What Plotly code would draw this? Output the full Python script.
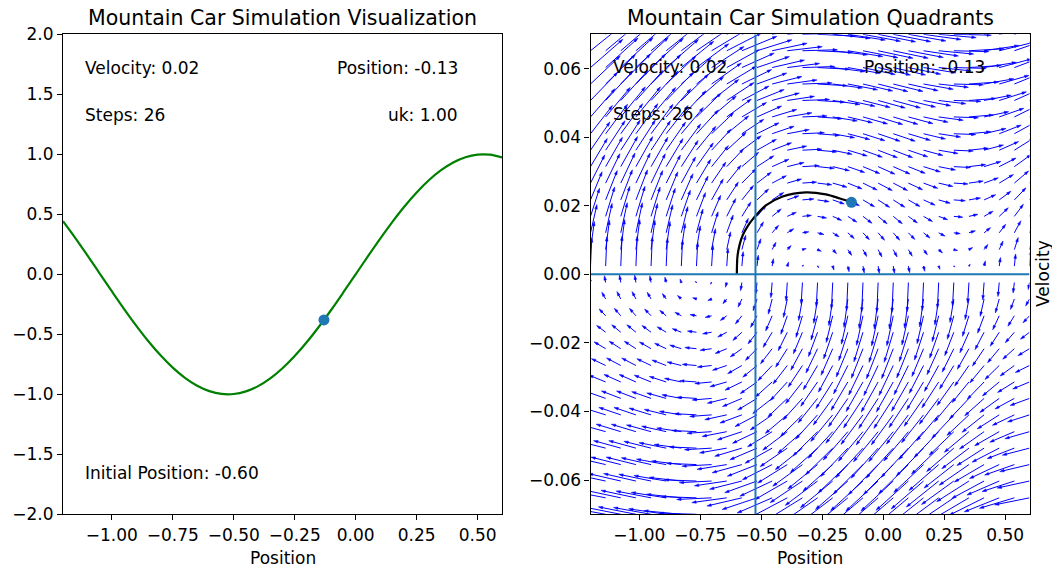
import plotly.graph_objects as go
import math

# ---------------- data ----------------
# left panel: mountain profile (height vs position)
hill_x = [-1.20, -1.15, -1.10, -1.05, -1.00, -0.95, -0.90, -0.85, -0.80, -0.75, -0.70, -0.65,
          -0.60, -0.55, -0.50, -0.45, -0.40, -0.35, -0.30, -0.25, -0.20, -0.15, -0.10, -0.05,
          0.00, 0.05, 0.10, 0.15, 0.20, 0.25, 0.30, 0.35, 0.40, 0.45, 0.50, 0.55, 0.60]
hill_y = [0.4425, 0.3035, 0.1577, 0.0084, -0.1411, -0.2875, -0.4274, -0.5577, -0.6755, -0.7781,
          -0.8632, -0.9290, -0.9738, -0.9969, -0.9975, -0.9757, -0.9320, -0.8674, -0.7833, -0.6816,
          -0.5646, -0.4350, -0.2955, -0.1494, 0.0, 0.1494, 0.2955, 0.4350, 0.5646, 0.6816, 0.7833,
          0.8674, 0.9320, 0.9757, 0.9975, 0.9969, 0.9738]

car_position = -0.13
car_height = -0.38
car_velocity = 0.021
valley_position = -0.5236

# right panel: trajectory in phase space
traj_pos = [-0.600, -0.597, -0.588, -0.576, -0.556, -0.532, -0.481, -0.412, -0.317, -0.235, -0.177, -0.130]
traj_vel = [0.0000, 0.0055, 0.0088, 0.0114, 0.0140, 0.0163, 0.0201, 0.0227, 0.0239, 0.0233, 0.0221, 0.0210]

# quiver grid
grid_pos = [-1.2000, -1.1379, -1.0759, -1.0138, -0.9517, -0.8897, -0.8276, -0.7655, -0.7034, -0.6414,
            -0.5793, -0.5172, -0.4552, -0.3931, -0.3310, -0.2690, -0.2069, -0.1448, -0.0828, -0.0207,
            0.0414, 0.1034, 0.1655, 0.2276, 0.2897, 0.3517, 0.4138, 0.4759, 0.5379, 0.6000]
grid_vel = [-0.0700, -0.0652, -0.0603, -0.0555, -0.0507, -0.0459, -0.0410, -0.0362, -0.0314, -0.0266,
            -0.0217, -0.0169, -0.0121, -0.0072, -0.0024, 0.0024, 0.0072, 0.0121, 0.0169, 0.0217,
            0.0266, 0.0314, 0.0362, 0.0410, 0.0459, 0.0507, 0.0555, 0.0603, 0.0652, 0.0700]
# velocity change per column (x1e-4) when pushing right (v>0) / left (v<0)
accel_push_right = [37.42, 39.08, 39.91, 39.88, 38.98, 37.26, 34.77, 31.60, 27.86, 23.67,
                    19.16, 14.52, 9.90, 5.46, 1.34, -2.29, -5.34, -7.68, -9.23, -9.95,
                    -9.81, -8.81, -6.98, -4.40, -1.14, 2.68, 6.93, 11.43, 16.08, 20.68]
accel_push_left = [7.42, 9.08, 9.91, 9.88, 8.98, 7.26, 4.77, 1.60, -2.14, -6.33,
                   -10.84, -15.48, -20.10, -24.54, -28.66, -32.29, -35.34, -37.68, -39.23, -39.95,
                   -39.81, -38.81, -36.98, -34.40, -31.14, -27.32, -23.07, -18.57, -13.92, -9.32]

x_ticks = [-1.0, -0.75, -0.5, -0.25, 0.0, 0.25, 0.5]
x_tick_text = ["\u22121.00", "\u22120.75", "\u22120.50", "\u22120.25", "0.00", "0.25", "0.50"]
y1_ticks = [2.0, 1.5, 1.0, 0.5, 0.0, -0.5, -1.0, -1.5, -2.0]
y1_tick_text = ["2.0", "1.5", "1.0", "0.5", "0.0", "\u22120.5", "\u22121.0", "\u22121.5", "\u22122.0"]
y2_ticks = [0.06, 0.04, 0.02, 0.0, -0.02, -0.04, -0.06]
y2_tick_text = ["0.06", "0.04", "0.02", "0.00", "\u22120.02", "\u22120.04", "\u22120.06"]

# ---------------- layout geometry ----------------
W, H = 1052, 568
L1 = (63, 502)
L2 = (590.5, 1029.5)
YT, YB = 34.3, 514.3
XR = (-1.2, 0.6)
VR = (-0.07, 0.07)
kx = (L2[1] - L2[0]) / (XR[1] - XR[0])   # px per position unit
ky = (YB - YT) / (VR[1] - VR[0])         # px per velocity unit

FONT = "DejaVu Sans"
BLUE = "#1f77b4"
FS = 17
FT = 20.5

fig = go.Figure()

# left panel
fig.add_trace(go.Scatter(x=hill_x, y=hill_y, mode="lines", line=dict(color="green", width=2.2, shape="spline"),
                         xaxis="x", yaxis="y", showlegend=False, hoverinfo="skip"))
fig.add_trace(go.Scatter(x=[car_position], y=[car_height], mode="markers",
                         marker=dict(color=BLUE, size=11), xaxis="x", yaxis="y", showlegend=False))

# quiver
scale = 2.2
shaft_x, shaft_y, head_x, head_y = [], [], [], []
for v in grid_vel:
    acc = accel_push_right if v > 0 else accel_push_left
    for xp, a in zip(grid_pos, acc):
        dxp = scale * v * kx
        dyp = scale * a * 1e-4 * ky
        L = math.hypot(dxp, dyp)
        if L < 1e-6:
            continue
        ux, uy = dxp / L, dyp / L
        hl, hw = 4.4, 2.6
        if L < hl:
            f = L / hl
            hl, hw = hl * f, hw * f
        bx, by = dxp - ux * hl * 0.9, dyp - uy * hl * 0.9
        shaft_x += [xp, xp + bx / kx, None]
        shaft_y += [v, v + by / ky, None]
        cbx, cby = dxp - ux * hl, dyp - uy * hl
        px_, py_ = -uy, ux
        pts = [(dxp, dyp), (cbx + px_ * hw / 2, cby + py_ * hw / 2), (cbx - px_ * hw / 2, cby - py_ * hw / 2)]
        for (a1, b1) in pts:
            head_x.append(xp + a1 / kx)
            head_y.append(v + b1 / ky)
        head_x += [xp + dxp / kx, None]
        head_y += [v + dyp / ky, None]

fig.add_trace(go.Scatter(x=shaft_x, y=shaft_y, mode="lines", line=dict(color="#0000ff", width=1),
                         xaxis="x2", yaxis="y2", showlegend=False, hoverinfo="skip"))
fig.add_trace(go.Scatter(x=head_x, y=head_y, mode="lines", fill="toself", fillcolor="#0000ff",
                         line=dict(color="#0000ff", width=0.5),
                         xaxis="x2", yaxis="y2", showlegend=False, hoverinfo="skip"))

fig.add_trace(go.Scatter(x=traj_pos, y=traj_vel, mode="lines", line=dict(color="black", width=2.2, shape="spline"),
                         xaxis="x2", yaxis="y2", showlegend=False, hoverinfo="skip"))
fig.add_trace(go.Scatter(x=[XR[0], XR[1]], y=[0, 0], mode="lines", line=dict(color=BLUE, width=2),
                         xaxis="x2", yaxis="y2", showlegend=False, hoverinfo="skip"))
fig.add_trace(go.Scatter(x=[valley_position, valley_position], y=[VR[0], VR[1]], mode="lines",
                         line=dict(color=BLUE, width=2), xaxis="x2", yaxis="y2", showlegend=False, hoverinfo="skip"))
fig.add_trace(go.Scatter(x=[car_position], y=[car_velocity], mode="markers",
                         marker=dict(color=BLUE, size=11), xaxis="x2", yaxis="y2", showlegend=False))

def px2paper_x(p):
    return p / W

def px2paper_y(p):
    return (H - p) / H

axis_common = dict(showline=True, mirror=True, linecolor="black", linewidth=1.1, ticks="outside",
                   ticklen=5, tickwidth=1.1, tickcolor="black", showgrid=False, zeroline=False,
                   automargin=False, tickfont=dict(family=FONT, size=FS, color="black"))

fig.update_layout(
    width=W, height=H, margin=dict(l=0, r=0, t=0, b=0, pad=0),
    paper_bgcolor="white", plot_bgcolor="white", template="none",
    xaxis=dict(domain=[L1[0] / W, L1[1] / W], range=list(XR), anchor="y",
               tickvals=x_ticks, ticktext=x_tick_text, **axis_common),
    yaxis=dict(domain=[(H - YB) / H, (H - YT) / H], range=[-2, 2], anchor="x",
               tickvals=y1_ticks, ticktext=y1_tick_text, **axis_common),
    xaxis2=dict(domain=[L2[0] / W, L2[1] / W], range=list(XR), anchor="y2",
                tickvals=x_ticks, ticktext=x_tick_text, **axis_common),
    yaxis2=dict(domain=[(H - YB) / H, (H - YT) / H], range=list(VR), anchor="x2",
                tickvals=y2_ticks, ticktext=y2_tick_text, **axis_common),
    showlegend=False,
)

tf = dict(family=FONT, size=FS, color="black")
ann = []
# titles
ann.append(dict(text="Mountain Car Simulation Visualization", x=px2paper_x(282.5), y=px2paper_y(18),
                xref="paper", yref="paper", xanchor="center", yanchor="middle", showarrow=False,
                font=dict(family=FONT, size=FT, color="black")))
ann.append(dict(text="Mountain Car Simulation Quadrants", x=px2paper_x(810), y=px2paper_y(18),
                xref="paper", yref="paper", xanchor="center", yanchor="middle", showarrow=False,
                font=dict(family=FONT, size=FT, color="black")))
# x labels
for cx in (282.5, 810):
    ann.append(dict(text="Position", x=px2paper_x(cx), y=px2paper_y(558), xref="paper", yref="paper",
                    xanchor="center", yanchor="middle", showarrow=False, font=tf))
ann.append(dict(text="Velocity", x=px2paper_x(1043), y=px2paper_y(274), xref="paper", yref="paper",
                xanchor="center", yanchor="middle", showarrow=False, textangle=-90, font=tf))
# left panel texts
xl, xr = -1.117, 0.426
ann += [
    dict(text="Velocity: 0.02", x=xl, y=1.72, xref="x", yref="y", xanchor="left", showarrow=False, font=tf),
    dict(text="Position: -0.13", x=xr, y=1.72, xref="x", yref="y", xanchor="right", showarrow=False, font=tf),
    dict(text="Steps: 26", x=xl, y=1.33, xref="x", yref="y", xanchor="left", showarrow=False, font=tf),
    dict(text="uk: 1.00", x=xr, y=1.33, xref="x", yref="y", xanchor="right", showarrow=False, font=tf),
    dict(text="Initial Position: -0.60", x=xl, y=-1.66, xref="x", yref="y", xanchor="left", showarrow=False, font=tf),
]
# right panel texts
ann += [
    dict(text="Velocity: 0.02", x=xl, y=0.0604, xref="x2", yref="y2", xanchor="left", showarrow=False, font=tf),
    dict(text="Position: -0.13", x=xr, y=0.0604, xref="x2", yref="y2", xanchor="right", showarrow=False, font=tf),
    dict(text="Steps: 26", x=xl, y=0.0467, xref="x2", yref="y2", xanchor="left", showarrow=False, font=tf),
]
fig.update_layout(annotations=ann)

fig.write_html("out.html", config={"displayModeBar": False},
               post_script="document.body.style.margin='0';document.body.style.overflow='hidden';")
